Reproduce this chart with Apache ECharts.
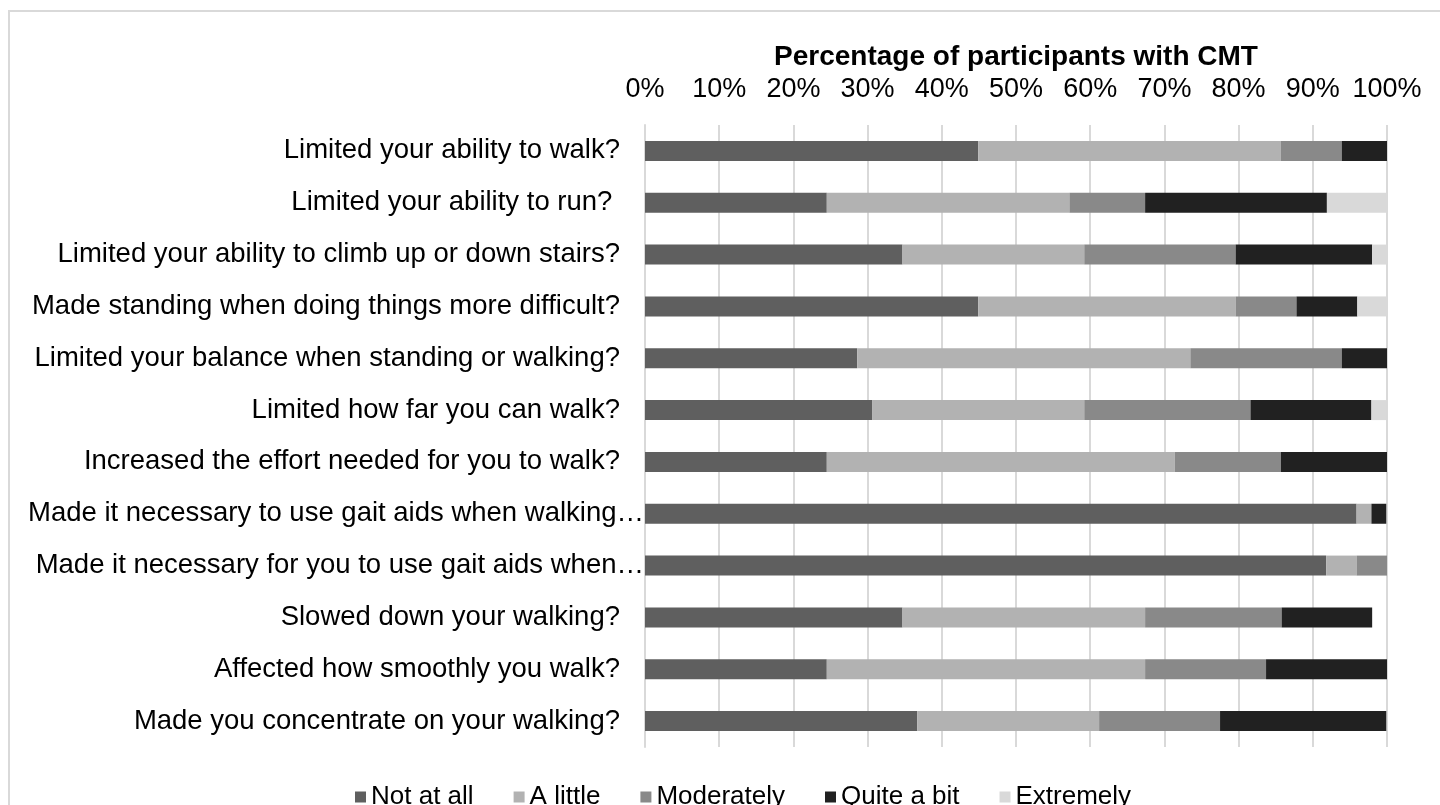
<!DOCTYPE html>
<html>
<head>
<meta charset="utf-8">
<script src="https://cdn.jsdelivr.net/npm/echarts@6/dist/echarts.min.js"></script>
<style>
html,body{margin:0;padding:0;background:#fff;}
#chart{width:1440px;height:805px;}
</style>
</head>
<body>
<div id="chart"></div>
<script>
var categories = [
  "Limited your ability to walk?",
  "Limited your ability to run? ",
  "Limited your ability to climb up or down stairs?",
  "Made standing when doing things more difficult?",
  "Limited your balance when standing or walking?",
  "Limited how far you can walk?",
  "Increased the effort needed for you to walk?",
  "Made it necessary to use gait aids when walking…",
  "Made it necessary for you to use gait aids when…",
  "Slowed down your walking?",
  "Affected how smoothly you walk?",
  "Made you concentrate on your walking?"
];
var seriesNames = ["Not at all", "A little", "Moderately", "Quite a bit", "Extremely"];
var notAtAll   = [44.9, 24.5, 34.7, 44.9, 28.6, 30.6, 24.5, 95.9, 91.8, 34.7, 24.5, 36.7];
var aLittle    = [40.8, 32.7, 24.5, 34.7, 44.9, 28.6, 46.9,  2.0,  4.1, 32.7, 42.9, 24.5];
var moderately = [ 8.2, 10.2, 20.4,  8.2, 20.4, 22.4, 14.3,  0.0,  4.1, 18.4, 16.3, 16.3];
var quiteABit  = [ 6.1, 24.5, 18.4,  8.2,  6.1, 16.3, 14.3,  2.0,  0.0, 12.2, 16.3, 22.4];
var extremely  = [ 0.0,  8.1,  2.0,  4.1,  0.0,  2.0,  0.0,  0.0,  0.0,  0.0,  0.0,  0.0];
var tickLabels = ["0%","10%","20%","30%","40%","50%","60%","70%","80%","90%","100%"];

var colors = ["#5f5f5f", "#b2b2b2", "#898989", "#212121", "#d9d9d9"];
var values = [notAtAll, aLittle, moderately, quiteABit, extremely];
var FONT = "Liberation Sans, Arial, sans-serif";

var catData = categories.map(function (c, i) {
  if (i === 7 || i === 8) {
    return { value: c, textStyle: { padding: [0, -24, 0, 0] } };
  }
  return c;
});

var chart = echarts.init(document.getElementById('chart'));
chart.setOption({
  animation: false,
  backgroundColor: '#fff',
  color: colors,
  graphic: [{
    type: 'rect',
    shape: { x: 9, y: 11, width: 1500, height: 900 },
    style: { fill: 'none', stroke: '#d9d9d9', lineWidth: 2 },
    silent: true
  }],
  grid: { left: 645, right: 53, top: 125, bottom: 58, containLabel: false },
  legend: {
    data: seriesNames,
    bottom: -10,
    left: 350,
    icon: 'rect',
    itemWidth: 11,
    itemHeight: 11,
    itemGap: 40,
    textStyle: { fontFamily: FONT, fontSize: 26, color: '#000' }
  },
  xAxis: {
    type: 'value',
    position: 'top',
    min: 0,
    max: 100,
    interval: 10,
    name: 'Percentage of participants with CMT',
    nameLocation: 'middle',
    nameGap: 35,
    nameTextStyle: { fontFamily: FONT, fontSize: 28, fontWeight: 'bold', color: '#000' },
    axisLine: { show: false },
    axisTick: { show: false },
    axisLabel: {
      fontFamily: FONT, fontSize: 27, color: '#000', margin: 22,
      formatter: function (v) { return tickLabels[Math.round(v / 10)]; }
    },
    splitLine: { show: true, lineStyle: { color: '#d9d9d9', width: 2 } }
  },
  yAxis: {
    type: 'category',
    inverse: true,
    data: catData,
    axisLine: { show: true, lineStyle: { color: '#d9d9d9', width: 2 } },
    axisTick: { show: false },
    axisLabel: { fontFamily: FONT, fontSize: 27.5, color: '#000', margin: 25 }
  },
  series: seriesNames.map(function (n, i) {
    return {
      name: n,
      type: 'bar',
      stack: 'total',
      barWidth: 20,
      data: values[i],
      itemStyle: { color: colors[i] }
    };
  })
});
</script>
</body>
</html>
